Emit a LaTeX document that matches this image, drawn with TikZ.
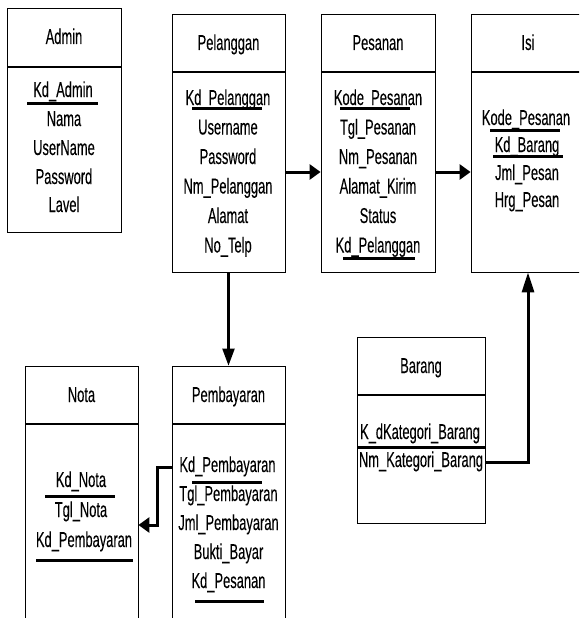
\documentclass[tikz,border=0pt]{standalone}
\usepackage{fontspec}
\setmainfont[FakeStretch=0.6,FakeBold=0.2]{Liberation Sans}
\usetikzlibrary{arrows.meta}

\begin{document}
\begin{tikzpicture}[x=1pt,y=-1pt,
  tbl/.style={draw,line width=0.8pt,inner sep=0pt},
  fld/.style={font=\fontsize{21.5}{24}\selectfont,inner sep=0pt,text height=15pt,text depth=5pt},
  key/.style={line width=3pt},
  rel/.style={line width=3pt,-{Triangle[length=11pt,width=15pt]}},
  relup/.style={line width=3pt,-{Triangle[length=20pt,width=12pt]}},
  reldown/.style={line width=2.2pt,-{Triangle[length=17pt,width=12pt]}}]
\useasboundingbox (0,0) rectangle (579,618);
\clip (0,0) rectangle (579,618);

\node[tbl,minimum width=114pt,minimum height=224pt] (admin) at (64,120) {};
\node[tbl,minimum width=113pt,minimum height=258pt] (pelanggan) at (228.5,143) {};
\node[tbl,minimum width=114pt,minimum height=258pt] (pesanan) at (378,143) {};
\node[tbl,minimum width=114pt,minimum height=258pt] (isi) at (528,143) {};
\node[tbl,minimum width=128pt,minimum height=186pt] (barang) at (421,430) {};
\node[tbl,minimum width=113pt,minimum height=274pt] (nota) at (81.5,503) {};
\node[tbl,minimum width=113pt,minimum height=274pt] (pembayaran) at (228.5,503) {};

\draw[line width=1.1pt] (7,67) -- (121,67);
\draw[line width=1.1pt] (172,72) -- (285,72);
\draw[line width=1.1pt] (321,72) -- (435,72);
\draw[line width=1.1pt] (471,72) -- (585,72);
\draw[line width=1.1pt] (357,395) -- (485,395);
\draw[line width=1.1pt] (25,424) -- (138,424);
\draw[line width=1.1pt] (172,424) -- (285,424);

\node[fld] (tadmin) at (64,39) {Admin};
\node[fld] (tpelanggan) at (228.5,45) {Pelanggan};
\node[fld] (tpesanan) at (378,45) {Pesanan};
\node[fld] (tisi) at (528,45) {Isi};
\node[fld] (tbarang) at (421,368) {Barang};
\node[fld] (tnota) at (81.5,397) {Nota};
\node[fld] (tpembayaran) at (228.5,397) {Pembayaran};

\node[fld] (a1) at (63,92) {Kd\_Admin};
\node[fld] (a2) at (64,121) {Nama};
\node[fld] (a3) at (64,150) {UserName};
\node[fld] (a4) at (64,179) {Password};
\node[fld] (a5) at (64,207) {Lavel};
\draw[key] (27,103) -- (98,103);

\node[fld] (p1) at (228,100) {Kd\_Pelanggan};
\node[fld] (p2) at (228,129.5) {Username};
\node[fld] (p3) at (228,159) {Password};
\node[fld] (p4) at (228,188.5) {Nm\_Pelanggan};
\node[fld] (p5) at (228,218) {Alamat};
\node[fld] (p6) at (228,247.5) {No\_Telp};
\draw[key] (192,108) -- (262,108);

\node[fld] (s1) at (378,100) {Kode\_Pesanan};
\node[fld] (s2) at (378,129.5) {Tgl\_Pesanan};
\node[fld] (s3) at (378,159) {Nm\_Pesanan};
\node[fld] (s4) at (378,188.5) {Alamat\_Kirim};
\node[fld] (s5) at (378,218) {Status};
\node[fld] (s6) at (378,247.5) {Kd\_Pelanggan};
\draw[key] (340,108) -- (410,108);
\draw[key] (343,258) -- (415,258);

\node[fld] (i1) at (526,120) {Kode\_Pesanan};
\node[fld] (i2) at (527,147) {Kd\_Barang};
\node[fld] (i3) at (527,175) {Jml\_Pesan};
\node[fld] (i4) at (527,202) {Hrg\_Pesan};
\draw[key] (490,130) -- (560,130);
\draw[key] (493,156) -- (563,156);

\node[fld] (b1) at (420,434) {K\_dKategori\_Barang};
\node[fld] (b2) at (421,462) {Nm\_Kategori\_Barang};
\draw[key] (357,447) -- (485,447);

\node[fld] (n1) at (81,482) {Kd\_Nota};
\node[fld] (n2) at (81,512) {Tgl\_Nota};
\node[fld] (n3) at (84,542) {Kd\_Pembayaran};
\draw[key] (45,496) -- (115,496);
\draw[key] (36,560) -- (133,560);

\node[fld] (y1) at (227.5,467) {Kd\_Pembayaran};
\node[fld] (y2) at (228.5,496) {Tgl\_Pembayaran};
\node[fld] (y3) at (228.5,525) {Jml\_Pembayaran};
\node[fld] (y4) at (228.5,554) {Bukti\_Bayar};
\node[fld] (y5) at (228.5,583) {Kd\_Pesanan};
\draw[key] (192,482) -- (262,482);
\draw[key] (195,601) -- (264,601);

\coordinate (nbend) at (157,525);
\draw[rel] ([yshift=-29pt]pelanggan.east) -- ([yshift=-29pt]pesanan.west);
\draw[rel] ([yshift=-29pt]pesanan.east) -- ([yshift=-29pt]isi.west);
\draw[reldown] (pelanggan.south) -- (pembayaran.north);
\draw[relup] (barang.east |- b2) -| (isi.south);
\draw[rel] (pembayaran.west |- y1) -| (nbend) -- (nota.east |- nbend);
\end{tikzpicture}
\end{document}
